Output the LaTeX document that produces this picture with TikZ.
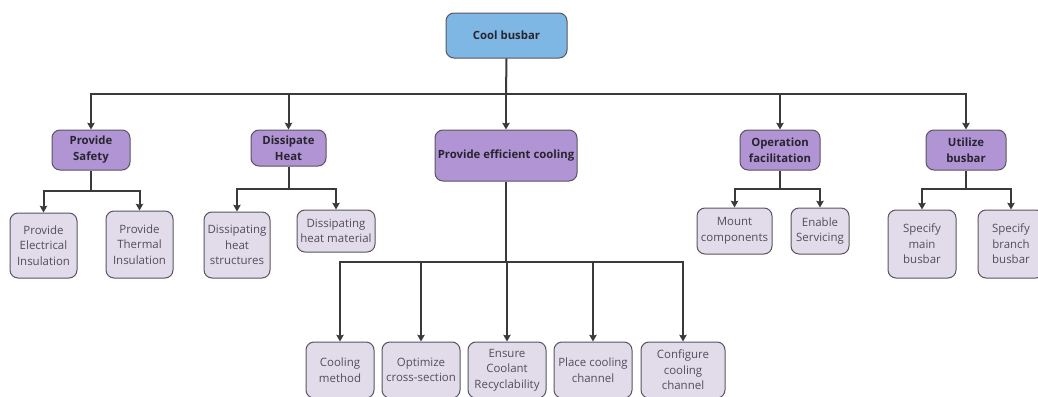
\documentclass[tikz,border=0pt]{standalone}
\usepackage{fontspec}
\setmainfont{Open Sans}
\usetikzlibrary{arrows.meta}

\definecolor{rootblue}{RGB}{126,183,228}
\definecolor{funcpurple}{RGB}{176,148,212}
\definecolor{leaflilac}{RGB}{226,220,234}
\definecolor{boxline}{RGB}{88,84,96}
\definecolor{linkgray}{RGB}{58,58,60}
\definecolor{titletxt}{RGB}{40,36,48}
\definecolor{leaftxt}{RGB}{84,76,92}

\tikzset{every picture/.style={line width=0.75pt}}
\tikzset{
  rootbox/.style={draw=boxline, fill=rootblue, rounded corners=6pt, align=center,
    inner sep=0.75pt, text=titletxt, font=\fontsize{8.5}{12}\selectfont\bfseries},
  funcbox/.style={rootbox, fill=funcpurple},
  leafbox/.style={draw=boxline, fill=leaflilac, rounded corners=6pt, align=center,
    inner sep=0.75pt, text=leaftxt, font=\fontsize{8.6}{11.6}\selectfont},
  link/.style={draw=linkgray, line width=1.5pt},
  arr/.style={link, -{Stealth[length=5pt,width=5.5pt,inset=0.6pt]}}
}

\begin{document}
\begin{tikzpicture}[x=0.75pt,y=0.75pt,yscale=-1,xscale=1]
\useasboundingbox (0,0) rectangle (1038,396);

% Root
\node[rootbox, minimum width=90.75pt, minimum height=33.75pt] (root) at (506.5,35.5) {Cool busbar};

% Functions
\node[funcbox, minimum width=58.5pt, minimum height=30pt] (safe) at (91,150) {Provide\\Safety};
\node[funcbox, minimum width=56.25pt, minimum height=27pt] (heat) at (288.5,148) {Dissipate\\Heat};
\node[funcbox, minimum width=106.5pt, minimum height=38.25pt] (cool) at (506,155.5) {Provide efficient cooling};
\node[funcbox, minimum width=60pt, minimum height=30pt] (oper) at (780,150) {Operation\\facilitation};
\node[funcbox, minimum width=60pt, minimum height=30pt] (util) at (966,150) {Utilize\\busbar};

% Sub-functions, upper row
\node[leafbox, minimum width=50.25pt, minimum height=48.75pt] (elec) at (43.5,245.5) {Provide\\Electrical\\Insulation};
\node[leafbox, minimum width=50.25pt, minimum height=50.25pt] (therm) at (139.5,244.5) {Provide\\Thermal\\Insulation};
\node[leafbox, minimum width=49.5pt, minimum height=49.5pt] (struct) at (237,245) {Dissipating\\heat\\structures};
\node[leafbox, minimum width=58.5pt, minimum height=31.5pt] (mat) at (336,231) {Dissipating\\heat material};
\node[leafbox, minimum width=56.25pt, minimum height=34.5pt] (mount) at (734.5,231) {Mount\\components};
\node[leafbox, minimum width=43.5pt, minimum height=34.5pt] (serv) at (820,231) {Enable\\Servicing};
\node[leafbox, minimum width=51pt, minimum height=51pt] (mainb) at (922,244) {Specify\\main\\busbar};
\node[leafbox, minimum width=49.5pt, minimum height=51pt] (branchb) at (1011,244) {Specify\\branch\\busbar};

% Sub-functions, lower row
\node[leafbox, minimum width=51pt, minimum height=42pt] (meth) at (340,370) {Cooling\\method};
\node[leafbox, minimum width=58.5pt, minimum height=42pt] (cross) at (421,370) {Optimize\\cross-section};
\node[leafbox, minimum width=58.5pt, minimum height=42pt] (recyc) at (507,370) {Ensure\\Coolant\\Recyclability};
\node[leafbox, minimum width=58.5pt, minimum height=42pt] (place) at (593,370) {Place cooling\\channel};
\node[leafbox, minimum width=63pt, minimum height=42pt] (config) at (683,370) {Configure\\cooling\\channel};

% Bus points
\coordinate (topbus) at (506,94);
\coordinate (safebus) at (91,191);
\coordinate (heatbus) at (288.5,189);
\coordinate (coolbus) at (506,262);
\coordinate (operbus) at (780,189);
\coordinate (utilbus) at (966,189);

% Connectors
\draw[link] (root.south) -- (topbus);
\foreach \n in {safe,heat,cool,oper,util}
  \draw[arr] (topbus) -| (\n.north);

\draw[link] (safe.south) -- (safebus);
\foreach \n in {elec,therm}
  \draw[arr] (safebus) -| (\n.north);

\draw[link] (heat.south) -- (heatbus);
\foreach \n in {struct,mat}
  \draw[arr] (heatbus) -| (\n.north);

\draw[link] (cool.south) -- (coolbus);
\foreach \n in {meth,cross,recyc,place,config}
  \draw[arr] (coolbus) -| (\n.north);

\draw[link] (oper.south) -- (operbus);
\foreach \n in {mount,serv}
  \draw[arr] (operbus) -| (\n.north);

\draw[link] (util.south) -- (utilbus);
\foreach \n in {mainb,branchb}
  \draw[arr] (utilbus) -| (\n.north);
\end{tikzpicture}
\end{document}
